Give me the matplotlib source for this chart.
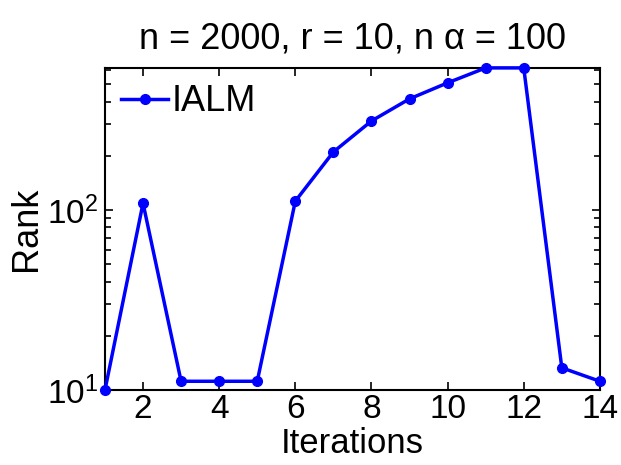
import matplotlib
matplotlib.use("Agg")
import matplotlib.pyplot as plt
from matplotlib.ticker import LogLocator, NullFormatter

plt.rcParams['font.family'] = ['Liberation Sans', 'DejaVu Sans']

iterations = [1, 2, 3, 4, 5, 6, 7, 8, 9, 10, 11, 12, 13, 14]
rank = [10, 109, 11.2, 11.2, 11.2, 112, 210, 312, 414, 508, 615, 615, 13.3, 11.2]
xticks = [2, 4, 6, 8, 10, 12, 14]

fig = plt.figure(figsize=(6.21, 4.65), dpi=100)
ax = fig.add_axes([0.169, 0.161, 0.797, 0.693])
ax.plot(iterations, rank, color='#0000ff', lw=2.5, marker='o', ms=7, label='IALM',
        clip_on=False, zorder=5)
ax.set_yscale('log')
ax.set_xlim(1, 14)
ax.set_ylim(10, 615)
ax.set_xticks(xticks)
ax.yaxis.set_major_locator(LogLocator(base=10, numticks=10))
ax.yaxis.set_minor_locator(LogLocator(base=10, subs=range(2, 10), numticks=10))
ax.yaxis.set_minor_formatter(NullFormatter())
ax.tick_params(which='both', direction='in', top=True, right=True, labelsize=24, width=1.2)
ax.tick_params(which='major', length=6)
ax.tick_params(axis='x', which='major', pad=3)
ax.tick_params(axis='y', which='major', pad=5)
ax.tick_params(which='minor', length=4)
for s in ax.spines.values():
    s.set_linewidth(1.5)
ax.set_xlabel('Iterations', fontsize=25, labelpad=1)
ax.set_ylabel('Rank', fontsize=26, labelpad=2)
ax.set_title('n = 2000, r = 10, n α = 100', fontsize=26, pad=14)
leg = ax.legend(loc='upper left', fontsize=26, frameon=False, handlelength=1.3,
                handletextpad=0.1, borderaxespad=0.25, borderpad=0.2)
fig.savefig('out.png', dpi=100)
